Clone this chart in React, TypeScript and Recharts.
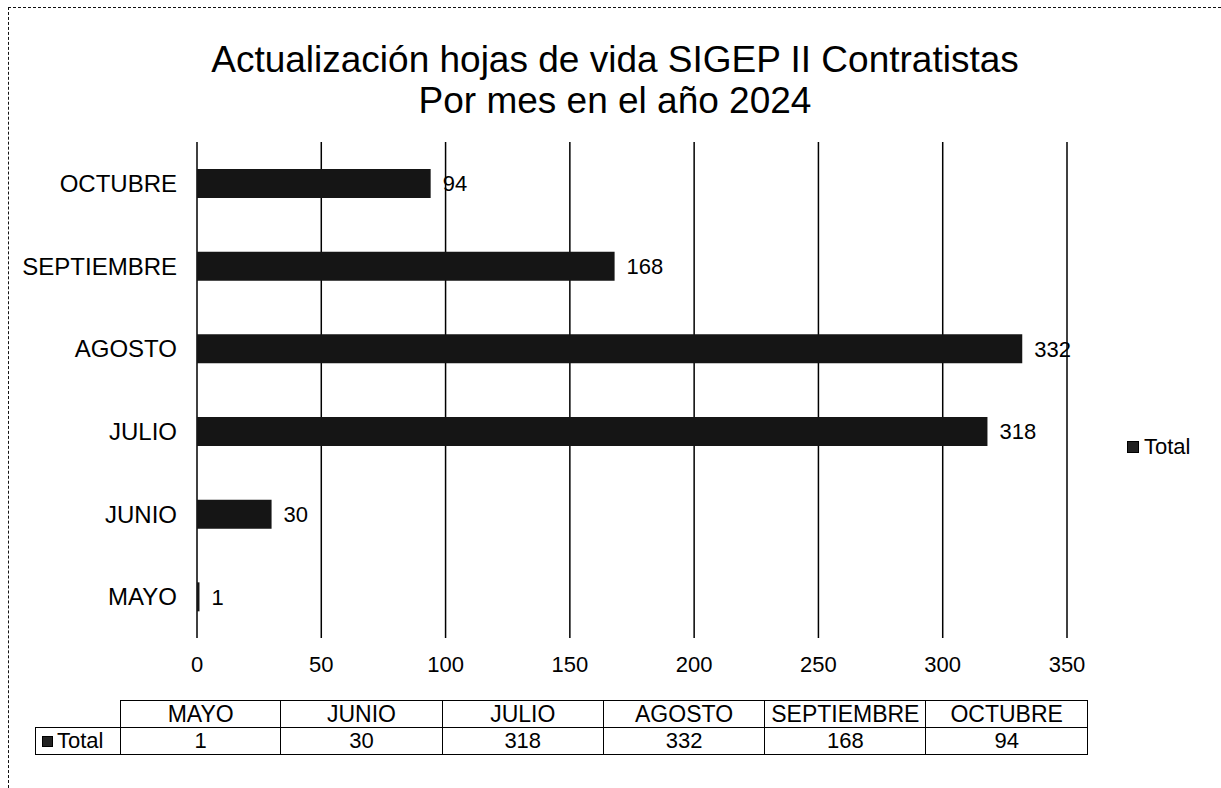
import { Bar, BarChart, CartesianGrid, LabelList, XAxis, YAxis } from 'recharts'

const months = ['MAYO', 'JUNIO', 'JULIO', 'AGOSTO', 'SEPTIEMBRE', 'OCTUBRE']
const totals = [1, 30, 318, 332, 168, 94]
const xTicks = [0, 50, 100, 150, 200, 250, 300, 350]

const data = months.map((month, i) => ({ month, Total: totals[i] }))

const font = '"Liberation Sans", Arial, sans-serif'

export default function App() {
  const colW = 161.3
  return (
    <div
      style={{
        position: 'absolute',
        left: 0,
        top: 0,
        width: 1221,
        height: 788,
        background: '#fff',
        fontFamily: font,
        overflow: 'hidden',
      }}
    >
      <div style={{ position: 'absolute', left: 8, top: 7, width: 1213, borderTop: '1.5px dashed #111' }} />
      <div style={{ position: 'absolute', left: 8, top: 7, height: 781, borderLeft: '1.5px dashed #111' }} />

      <div
        style={{
          position: 'absolute',
          left: 0,
          top: 39,
          width: 1230,
          textAlign: 'center',
          fontSize: 37,
          lineHeight: '41px',
          color: '#000',
        }}
      >
        Actualización hojas de vida SIGEP II Contratistas
        <br />
        Por mes en el año 2024
      </div>

      <div style={{ position: 'absolute', left: 0, top: 0 }}>
        <BarChart
          width={1221}
          height={700}
          data={data}
          layout="vertical"
          margin={{ top: 142, right: 154, bottom: 0, left: 0 }}
        >
          <CartesianGrid horizontal={false} stroke="#000" strokeWidth={1.5} />
          <XAxis
            type="number"
            domain={[0, 350]}
            ticks={xTicks}
            height={62}
            axisLine={false}
            tickLine={false}
            tickMargin={12}
            tick={{ fill: '#000', fontSize: 22, fontFamily: font }}
          />
          <YAxis
            type="category"
            dataKey="month"
            reversed
            width={197}
            axisLine={false}
            tickLine={false}
            tickMargin={14}
            tick={{ fill: '#000', fontSize: 24, fontFamily: font }}
          />
          <Bar dataKey="Total" fill="#151515" barSize={29} isAnimationActive={false}>
            <LabelList
              dataKey="Total"
              position="right"
              offset={12}
              fill="#000"
              fontSize={22}
              fontFamily={font}
            />
          </Bar>
        </BarChart>
      </div>

      <div
        style={{
          position: 'absolute',
          left: 1127,
          top: 434,
          display: 'flex',
          alignItems: 'center',
          fontSize: 22,
          color: '#000',
        }}
      >
        <span style={{ width: 10, height: 10, background: '#222', border: '1px solid #000', marginRight: 5 }} />
        Total
      </div>

      <div style={{ position: 'absolute', left: 120, top: 700, fontSize: 23, color: '#000' }}>
        <div style={{ display: 'flex', borderTop: '1.5px solid #000' }}>
          {months.map((m, i) => (
            <div
              key={m}
              style={{
                width: colW,
                height: 26,
                lineHeight: '26px',
                textAlign: 'center',
                borderRight: '1.5px solid #000',
                borderLeft: i === 0 ? '1.5px solid #000' : undefined,
                boxSizing: 'border-box',
                whiteSpace: 'nowrap',
              }}
            >
              {m}
            </div>
          ))}
        </div>
        <div style={{ display: 'flex', borderTop: '1.5px solid #000', borderBottom: '1.5px solid #000' }}>
          {totals.map((v, i) => (
            <div
              key={months[i]}
              style={{
                width: colW,
                height: 26,
                lineHeight: '26px',
                textAlign: 'center',
                fontSize: 22,
                borderRight: '1.5px solid #000',
                borderLeft: i === 0 ? '1.5px solid #000' : undefined,
                boxSizing: 'border-box',
              }}
            >
              {v}
            </div>
          ))}
        </div>
      </div>
      <div
        style={{
          position: 'absolute',
          left: 35,
          top: 727,
          width: 86,
          height: 28,
          border: '1.5px solid #000',
          borderRight: 'none',
          boxSizing: 'border-box',
          display: 'flex',
          alignItems: 'center',
          paddingLeft: 6,
          fontSize: 22,
          color: '#000',
        }}
      >
        <span style={{ width: 9, height: 9, background: '#222', border: '1px solid #000', marginRight: 4 }} />
        Total
      </div>
    </div>
  )
}
